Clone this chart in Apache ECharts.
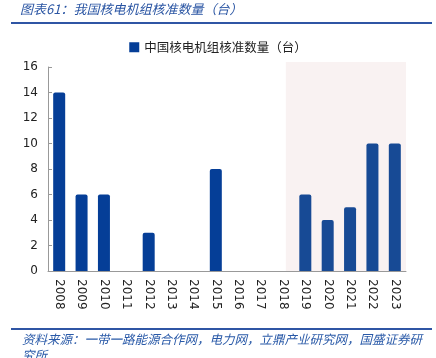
<!DOCTYPE html>
<html><head><meta charset="utf-8">
<script src="https://cdn.jsdelivr.net/npm/echarts@6/dist/echarts.min.js"></script>
<style>html,body{margin:0;padding:0;background:#fff}#c{width:436px;height:358px}</style>
</head><body><div id="c"></div>
<script>
var categories = ['2008','2009','2010','2011','2012','2013','2014','2015','2016','2017','2018','2019','2020','2021','2022','2023'];
var values = [14, 6, 6, 0, 3, 0, 0, 8, 0, 0, 0, 6, 4, 5, 10, 10];
var yTicks = [0, 2, 4, 6, 8, 10, 12, 14, 16];
var seriesName = '中国核电机组核准数量（台）';
var titleText = '图表61：我国核电机组核准数量（台）';
var sourceText = '资料来源：一带一路能源合作网，电力网，立鼎产业研究网，国盛证券研\n究所';
var shadeFrom = '2018';

var chart = echarts.init(document.getElementById('c'), null, {renderer: 'canvas'});
var font = '"Noto Sans CJK SC", "DejaVu Sans", sans-serif';
var numFont = '"DejaVu Sans", sans-serif';
var shadeStartIdx = categories.indexOf(shadeFrom);
var option = {
  animation: false,
  grid: {left: 48, right: 30, top: 67, bottom: 87, containLabel: false},
  legend: {
    top: 36, left: 'center', itemWidth: 10, itemHeight: 10, itemGap: 3,
    icon: 'rect',
    textStyle: {fontFamily: font, fontSize: 12.5, color: '#222'},
    data: [seriesName]
  },
  xAxis: {
    type: 'category', data: categories,
    axisLine: {lineStyle: {color: '#999'}},
    axisTick: {inside: true, length: 4, lineStyle: {color: '#999'}},
    axisLabel: {rotate: -90, fontFamily: numFont, fontSize: 12, color: '#222', margin: 8}
  },
  yAxis: {
    type: 'value', min: yTicks[0], max: yTicks[yTicks.length - 1], interval: 2,
    splitLine: {show: false},
    axisLine: {show: true, lineStyle: {color: '#999'}},
    axisTick: {show: true, inside: true, length: 4, lineStyle: {color: '#999'}},
    axisLabel: {fontFamily: numFont, fontSize: 12, color: '#222', margin: 10}
  },
  series: [{
    name: seriesName, type: 'bar', barWidth: 12,
    data: values.map(function (v, i) {
      return {value: v, itemStyle: {color: i >= shadeStartIdx ? '#174a95' : '#053e97'}};
    }),
    itemStyle: {color: '#053e97', borderRadius: [2, 2, 0, 0]},
    z: 3
  }],
  graphic: [
    {type: 'text', left: 20, top: 3, style: {text: titleText, fontFamily: font, fontStyle: 'italic', fontSize: 13, fill: '#2a55a3'}},
    {type: 'rect', shape: {x: 11, y: 22, width: 421, height: 2}, style: {fill: '#2f55a4'}},
    {type: 'rect', shape: {x: 11, y: 328, width: 421, height: 2}, style: {fill: '#2f55a4'}},
    {type: 'text', left: 22, top: 331, style: {text: sourceText, fontFamily: font, fontStyle: 'italic', fontSize: 12.5, lineHeight: 16, fill: '#2a5aa8'}}
  ]
};
chart.setOption(option);
// shaded region behind the recent years
var p0 = chart.convertToPixel({xAxisIndex: 0}, shadeFrom);
var p1 = chart.convertToPixel({xAxisIndex: 0}, categories[shadeStartIdx + 1]);
var topPx = chart.convertToPixel({yAxisIndex: 0}, yTicks[yTicks.length - 1]);
var botPx = chart.convertToPixel({yAxisIndex: 0}, yTicks[0]);
var rightPx = 436 - 30;
var leftPx = p0 + (p1 - p0) * 0.13;
var g = option.graphic.slice();
g.unshift({type: 'rect', z: -1, shape: {x: leftPx, y: topPx - 5, width: rightPx - leftPx, height: botPx - topPx + 5}, style: {fill: '#f9f2f2'}});
chart.setOption({graphic: g}, {replaceMerge: ['graphic']});
</script></body></html>
